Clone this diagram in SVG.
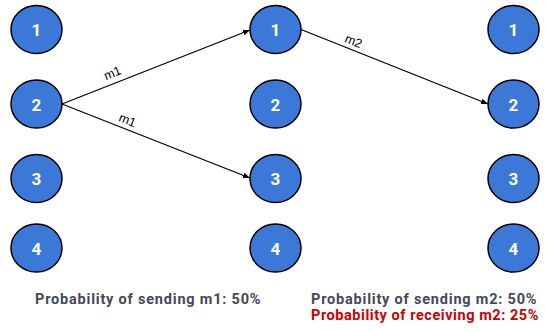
<svg xmlns="http://www.w3.org/2000/svg" width="545" height="332" viewBox="0 0 545 332">
  <style>
    .node ellipse { fill: #3c78d8; stroke: #000; stroke-width: 1.5; }
    .node text { fill: #fff; font-family: Roboto, "Liberation Sans", sans-serif; font-weight: bold; font-size: 17px; text-anchor: middle; dominant-baseline: central; }
    .edge { stroke: #000; stroke-width: 1.3; fill: none; marker-end: url(#arrow); }
    .elabel { font-family: "Liberation Sans", Arial, sans-serif; font-size: 12.5px; fill: #000; text-anchor: middle; }
    .caption { font-family: Roboto, "Liberation Sans", sans-serif; font-weight: bold; font-size: 14.5px; letter-spacing: 0.8px; }
    .caption.tight { letter-spacing: 0.55px; }
  </style>
  <defs>
    <marker id="arrow" viewBox="0 0 10 10" refX="10" refY="5" markerWidth="7" markerHeight="7" markerUnits="userSpaceOnUse" orient="auto">
      <path d="M0,1 L10,5 L0,9 z" fill="#000"/>
    </marker>
  </defs>
  <rect width="545" height="332" fill="#fff"/>

  <!-- column 1 -->
  <g id="a1" class="node"><ellipse cx="36.5" cy="29.5" rx="25.5" ry="24"/><text x="36.5" y="30">1</text></g>
  <g id="a2" class="node"><ellipse cx="36.5" cy="104" rx="25.5" ry="24"/><text x="36.5" y="104.5">2</text></g>
  <g id="a3" class="node"><ellipse cx="36.5" cy="178.5" rx="25.5" ry="24"/><text x="36.5" y="179">3</text></g>
  <g id="a4" class="node"><ellipse cx="36.5" cy="248" rx="25.5" ry="24"/><text x="36.5" y="248.5">4</text></g>

  <!-- column 2 -->
  <g id="b1" class="node"><ellipse cx="275.5" cy="29.5" rx="25.5" ry="24"/><text x="275.5" y="30">1</text></g>
  <g id="b2" class="node"><ellipse cx="275.5" cy="104" rx="25.5" ry="24"/><text x="275.5" y="104.5">2</text></g>
  <g id="b3" class="node"><ellipse cx="275.5" cy="178.5" rx="25.5" ry="24"/><text x="275.5" y="179">3</text></g>
  <g id="b4" class="node"><ellipse cx="275.5" cy="248" rx="25.5" ry="24"/><text x="275.5" y="248.5">4</text></g>

  <!-- column 3 -->
  <g id="c1" class="node"><ellipse cx="513.5" cy="29.5" rx="25.5" ry="24"/><text x="513.5" y="30">1</text></g>
  <g id="c2" class="node"><ellipse cx="513.5" cy="104" rx="25.5" ry="24"/><text x="513.5" y="104.5">2</text></g>
  <g id="c3" class="node"><ellipse cx="513.5" cy="178.5" rx="25.5" ry="24"/><text x="513.5" y="179">3</text></g>
  <g id="c4" class="node"><ellipse cx="513.5" cy="248" rx="25.5" ry="24"/><text x="513.5" y="248.5">4</text></g>

  <!-- message connectors -->
  <g id="edges">
    <line class="edge" x1="62" y1="104" x2="250" y2="30"/>
    <line class="edge" x1="62" y1="104" x2="250" y2="178"/>
    <line class="edge" x1="301" y1="29.5" x2="488" y2="104"/>
    <text class="elabel" transform="translate(114,77) rotate(-21.5)">m1</text>
    <text class="elabel" transform="translate(126,124) rotate(21.5)">m1</text>
    <text class="elabel" transform="translate(352,45) rotate(21.8)">m2</text>
  </g>

  <!-- captions -->
  <text class="caption" x="35" y="303.5" fill="#434a56">Probability of sending m1: 50%</text>
  <text class="caption" x="311" y="303.5" fill="#434a56">Probability of sending m2: 50%</text>
  <text class="caption tight" x="311" y="319.5" fill="#cc0000">Probability of receiving m2: 25%</text>
</svg>
